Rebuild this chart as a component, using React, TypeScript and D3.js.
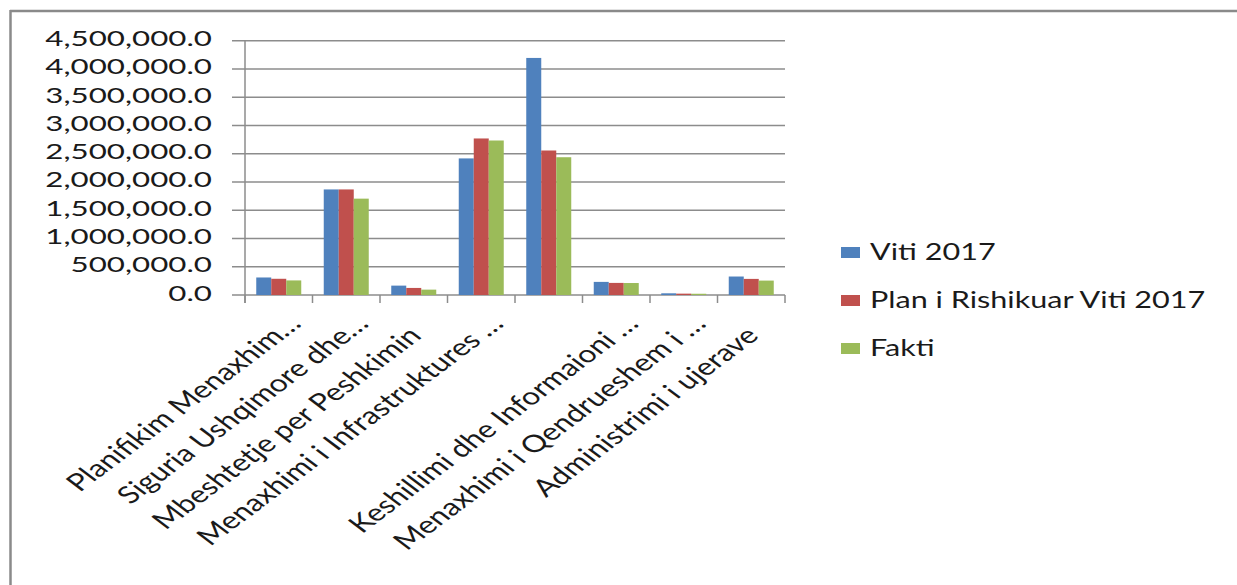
import * as d3 from 'd3'

// category names as shown on the axis (long ones are cut off in the source)
const categories = [
  'Planifikim Menaxhim…',
  'Siguria Ushqimore dhe…',
  'Mbeshtetje per Peshkimin',
  'Menaxhimi i Infrastruktures …',
  '',
  'Keshillimi dhe Informaioni …',
  'Menaxhimi i Qendrueshem i …',
  'Administrimi i ujerave'
]

const seriesNames = ['Viti 2017', 'Plan i Rishikuar Viti 2017', 'Fakti']

const viti2017 = [310000, 1868000, 166000, 2417000, 4195000, 232000, 30000, 327000]
const planRishikuar = [287000, 1868000, 125000, 2770000, 2557000, 214000, 24000, 285000]
const fakti = [258000, 1705000, 95000, 2734000, 2438000, 212000, 22000, 255000]

const yTicks = [0, 500000, 1000000, 1500000, 2000000, 2500000, 3000000, 3500000, 4000000, 4500000]

const colors = ['#4f81bd', '#c0504d', '#9bbb59']

const W = 1237
const H = 585
const SX = 1.33 // the source picture is stretched sideways
const SX_Y = 1.49 // y labels come out a bit wider still
const FONT = 'Lato, "Open Sans", sans-serif'

export default function App() {
  const series = [viti2017, planRishikuar, fakti]

  const x = d3.scaleBand<string>()
    .domain(categories.map((_, i) => String(i)))
    .range([245, 785])
    .paddingInner(1 / 3)
    .paddingOuter(1 / 6)

  const xInner = d3.scaleBand<string>()
    .domain(seriesNames)
    .range([0, x.bandwidth()])

  const y = d3.scaleLinear()
    .domain([0, 4500000])
    .range([295, 40.7])

  const fmt = d3.format(',.1f')
  const step = x.step()
  const x0 = x.range()[0]

  return (
    <div style={{ position: 'absolute', left: 0, top: 0 }}>
      <svg width={W} height={H} style={{ display: 'block', background: '#fff' }}>
        {/* outer frame */}
        <line x1={10} x2={W} y1={11} y2={11} stroke="#8a8a8a" strokeWidth={2.5} />
        <line x1={10.5} x2={10.5} y1={10} y2={H} stroke="#8a8a8a" strokeWidth={2.5} />

        {/* gridlines + y labels */}
        {yTicks.map(t => (
          <g key={t}>
            <line x1={232} x2={785} y1={y(t)} y2={y(t)} stroke="#8c8c8c" strokeWidth={1.5} />
            <text
              transform={`translate(212,${y(t) + 5.5}) scale(${SX_Y},1)`}
              textAnchor="end"
              fontFamily={FONT}
              fontSize={21}
              fill="#1a1a1a"
            >
              {fmt(t)}
            </text>
          </g>
        ))}

        {/* y axis */}
        <line x1={245} x2={245} y1={y(4500000)} y2={303} stroke="#8c8c8c" strokeWidth={1.5} />

        {/* x tick marks */}
        {d3.range(categories.length + 1).map(i => (
          <line key={i} x1={x0 + i * step} x2={x0 + i * step} y1={295} y2={303} stroke="#8c8c8c" strokeWidth={1.5} />
        ))}

        {/* bars */}
        {series.map((vals, s) => (
          <g key={s} fill={colors[s]}>
            {vals.map((v, i) => (
              <rect
                key={i}
                x={(x(String(i)) ?? 0) + (xInner(seriesNames[s]) ?? 0)}
                y={y(v)}
                width={xInner.bandwidth()}
                height={y(0) - y(v)}
              />
            ))}
          </g>
        ))}

        {/* category labels, rotated */}
        {categories.map((c, i) => {
          const cx = (x(String(i)) ?? 0) + x.bandwidth() / 2
          const cut = c.endsWith('…')
          const bx = cut ? cx + 24 : cx + 9
          const by = cut ? 325 : 337
          return (
            <text
              key={i}
              transform={`translate(${bx},${by}) scale(${SX},1) rotate(-45)`}
              textAnchor="end"
              fontFamily={FONT}
              fontSize={24}
              fill="#1a1a1a"
            >
              {c}
            </text>
          )
        })}

        {/* legend */}
        {seriesNames.map((n, s) => (
          <g key={n}>
            <rect x={841} y={247 + s * 48} width={19} height={11} fill={colors[s]} />
            <text
              transform={`translate(870,${260 + s * 48}) scale(${SX},1)`}
              fontFamily={FONT}
              fontSize={23}
              fill="#1a1a1a"
            >
              {n}
            </text>
          </g>
        ))}
      </svg>
    </div>
  )
}
